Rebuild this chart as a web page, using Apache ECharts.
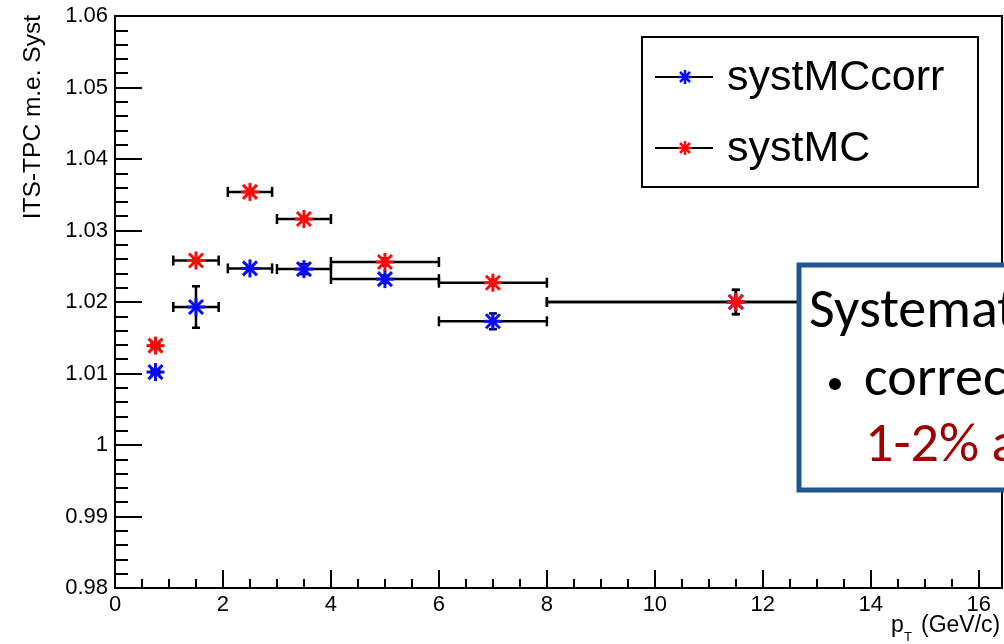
<!DOCTYPE html>
<html>
<head>
<meta charset="utf-8">
<script src="https://cdn.jsdelivr.net/npm/echarts@6/dist/echarts.min.js"></script>
<style>
html,body{margin:0;padding:0;background:#fff;}
#chart{width:1004px;height:644px;}
</style>
</head>
<body>
<div id="chart"></div>
<script>
// ---- data ----
const pt = [0.75, 1.5, 2.5, 3.5, 5, 7, 11.5];
const ptErr = [0.07, 0.42, 0.41, 0.5, 1, 1, 3.5];
const systMCcorr = [1.0102, 1.0193, 1.0247, 1.0246, 1.0232, 1.0173, 1.0200];
const systMCcorrErr = [0.0003, 0.0029, 0.0003, 0.0007, 0.0005, 0.0011, 0.0017];
const systMC = [1.0139, 1.0258, 1.0354, 1.0316, 1.0256, 1.0227, 1.0200];
const systMCErr = [0.0003, 0.0003, 0.0003, 0.0003, 0.0005, 0.0004, 0.0017];
const seriesNames = ['systMCcorr', 'systMC'];
const xTickLabels = ['0', '2', '4', '6', '8', '10', '12', '14', '16'];
const yTitle = 'ITS-TPC m.e. Syst';
const boxLines = ['Systematics', 'corrections', '1-2% at'];

const BLUE = '#0a0aff', RED = '#ff0a0a';
const FONT = '"Liberation Sans", Arial, Helvetica, sans-serif';
const BOXFONT = 'Carlito, Lato, sans-serif';

function build(vals, errs) {
  return pt.map((x, i) => [x, vals[i], ptErr[i], errs[i]]);
}

function makeRender(color) {
  return function (params, api) {
    const x = api.value(0), y = api.value(1), xe = api.value(2), ye = api.value(3);
    const c = api.coord([x, y]);
    const l = api.coord([x - xe, y]);
    const r = api.coord([x + xe, y]);
    const t = api.coord([x, y + ye]);
    const b = api.coord([x, y - ye]);
    const eS = { stroke: '#000', lineWidth: 2.5 };
    const mS = { stroke: color, lineWidth: 3 };
    const cap = 5, capY = 4;
    const ln = (x1, y1, x2, y2, s) => ({ type: 'line', shape: { x1, y1, x2, y2 }, style: s });
    const ch = [
      ln(l[0], c[1], r[0], c[1], eS),
      ln(l[0], c[1] - cap, l[0], c[1] + cap, eS),
      ln(r[0], c[1] - cap, r[0], c[1] + cap, eS),
      ln(c[0], t[1], c[0], b[1], eS),
      ln(c[0] - capY, t[1], c[0] + capY, t[1], eS),
      ln(c[0] - capY, b[1], c[0] + capY, b[1], eS),
      // asterisk marker
      ln(c[0] - 9, c[1], c[0] + 9, c[1], mS),
      ln(c[0], c[1] - 9, c[0], c[1] + 9, mS),
      ln(c[0] - 7, c[1] - 7, c[0] + 7, c[1] + 7, mS),
      ln(c[0] - 7, c[1] + 7, c[0] + 7, c[1] - 7, mS)
    ];
    return { type: 'group', children: ch };
  };
}

function legendStar(cx, cy, color) {
  const s = { stroke: color, lineWidth: 2.5 };
  return [
    { type: 'line', z: 60, shape: { x1: 655, y1: cy, x2: 713, y2: cy }, style: { stroke: '#000', lineWidth: 2 } },
    { type: 'line', z: 61, shape: { x1: cx - 7, y1: cy, x2: cx + 7, y2: cy }, style: s },
    { type: 'line', z: 61, shape: { x1: cx, y1: cy - 7, x2: cx, y2: cy + 7 }, style: s },
    { type: 'line', z: 61, shape: { x1: cx - 5, y1: cy - 5, x2: cx + 5, y2: cy + 5 }, style: s },
    { type: 'line', z: 61, shape: { x1: cx - 5, y1: cy + 5, x2: cx + 5, y2: cy - 5 }, style: s }
  ];
}

function txt(x, y, text, size, family, fill, align, z) {
  return {
    type: 'text', x: x, y: y, z: z,
    style: { text: text, fill: fill, fontSize: size, fontFamily: family, textAlign: align, textVerticalAlign: 'middle', align: align, verticalAlign: 'middle' }
  };
}

const chart = echarts.init(document.getElementById('chart'), null, { renderer: 'canvas' });
const option = {
  backgroundColor: '#fff',
  animation: false,
  grid: {
    left: 115, right: 2, top: 16, bottom: 56,
    show: true, borderColor: '#000', borderWidth: 2, backgroundColor: 'transparent'
  },
  xAxis: [
    {
      type: 'value', min: 0, max: 16.43, interval: 2, position: 'bottom',
      axisLine: { show: true, lineStyle: { color: '#000', width: 2 } },
      axisTick: { show: true, inside: true, length: 18, lineStyle: { color: '#000', width: 2 } },
      minorTick: { show: false },
      splitLine: { show: false },
      axisLabel: {
        show: true, margin: 6, color: '#000', fontSize: 22, fontFamily: FONT,
        showMaxLabel: false,
        formatter: v => { const s = String(Math.round(v)); return xTickLabels.indexOf(s) >= 0 && Math.abs(v - Math.round(v)) < 1e-6 ? s : ''; }
      }
    },
    {
      type: 'value', min: 0, max: 16.43, interval: 0.5, position: 'bottom',
      axisLine: { show: false },
      axisTick: { show: true, inside: true, length: 9, lineStyle: { color: '#000', width: 2 } },
      splitLine: { show: false },
      axisLabel: { show: false }
    }
  ],
  yAxis: {
    type: 'value', min: 0.98, max: 1.06, interval: 0.01,
    axisLine: { show: true, lineStyle: { color: '#000', width: 2 } },
    axisTick: { show: true, inside: true, length: 27, lineStyle: { color: '#000', width: 2 } },
    minorTick: { show: true, splitNumber: 5, length: 13, lineStyle: { color: '#000', width: 2 } },
    splitLine: { show: false },
    minorSplitLine: { show: false },
    axisLabel: {
      margin: 7, color: '#000', fontSize: 22, fontFamily: FONT,
      formatter: v => String(Math.round(v * 100) / 100)
    }
  },
  series: [
    {
      name: seriesNames[0], type: 'custom', xAxisIndex: 0, yAxisIndex: 0,
      renderItem: makeRender(BLUE), data: build(systMCcorr, systMCcorrErr),
      encode: { x: 0, y: 1 }, z: 3
    },
    {
      name: seriesNames[1], type: 'custom', xAxisIndex: 0, yAxisIndex: 0,
      renderItem: makeRender(RED), data: build(systMC, systMCErr),
      encode: { x: 0, y: 1 }, z: 4
    }
  ],
  graphic: [
    // y axis title
    {
      type: 'text', x: 33, y: 15, rotation: Math.PI / 2, z: 50,
      style: { text: yTitle, fill: '#000', fontSize: 24.5, fontFamily: FONT, textAlign: 'right', textVerticalAlign: 'middle', align: 'right', verticalAlign: 'middle' }
    },
    // x axis title
    txt(891, 626, 'p', 23, FONT, '#000', 'left', 50),
    txt(904, 637, 'T', 13, FONT, '#000', 'left', 50),
    txt(921, 626, '(GeV/c)', 23, FONT, '#000', 'left', 50),
    // legend
    { type: 'rect', z: 59, shape: { x: 642, y: 37, width: 336, height: 150 }, style: { fill: '#fff', stroke: '#000', lineWidth: 2 } }
  ].concat(legendStar(685, 77, BLUE)).concat(legendStar(685, 148, RED)).concat([
    txt(727, 78, seriesNames[0], 43, FONT, '#000', 'left', 61),
    txt(727, 149, seriesNames[1], 43, FONT, '#000', 'left', 61),
    // overlay text box
    { type: 'rect', z: 100, shape: { x: 799, y: 265, width: 260, height: 225 }, style: { fill: '#fff', stroke: '#1f5592', lineWidth: 5 } },
    txt(809, 313, boxLines[0], 56, BOXFONT, '#000', 'left', 101),
    { type: 'circle', z: 101, shape: { cx: 835, cy: 384, r: 6 }, style: { fill: '#000' } },
    txt(864, 381, boxLines[1], 56, BOXFONT, '#000', 'left', 101),
    txt(865, 447, boxLines[2], 56, BOXFONT, '#a00000', 'left', 101)
  ])
};
chart.setOption(option);
</script>
</body>
</html>
